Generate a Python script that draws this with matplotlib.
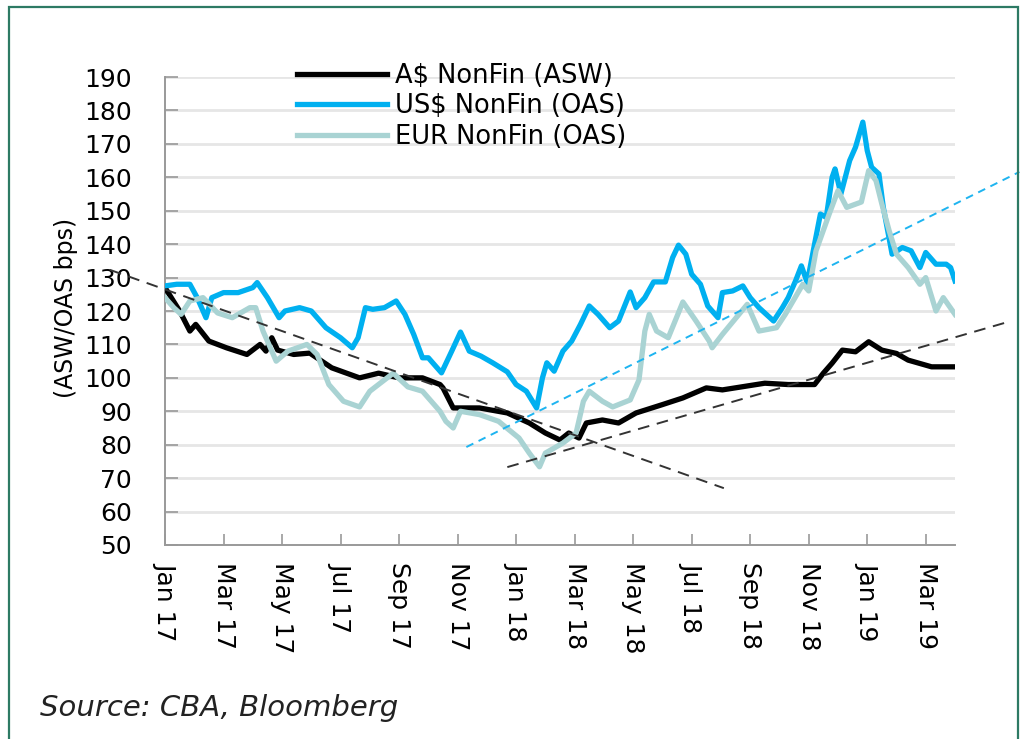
import numpy as np
import matplotlib
matplotlib.use('Agg')
import matplotlib.pyplot as plt
from matplotlib.patches import Rectangle

# months since Jan 2017 and spread levels (bps)
aud_months = [0, 0.5, 0.85, 1.05, 1.5, 2.1, 2.8, 3.25, 3.45, 3.65, 3.85, 4.4,
              4.95, 5.7, 6.65, 7.3, 8.0, 8.8, 9.4, 9.5, 9.85, 10.75, 11.7,
              12.45, 13.0, 13.5, 13.8, 14.15, 14.4, 14.95, 15.5, 16.1, 17.0,
              17.7, 18.5, 19.05, 20.5, 21.3, 22.2, 22.5, 22.8, 23.15, 23.6,
              24.05, 24.5, 25.0, 25.4, 26.2, 27.0]
aud_asw = [127, 120, 114, 116, 111, 109, 107, 110, 108, 112, 108.3, 107,
           107.4, 103, 100, 101.4, 100, 100, 98, 97, 91, 91, 89.5,
           86.5, 83.5, 81.4, 83.5, 82, 86.5, 87.4, 86.5, 89.5, 92,
           94, 97, 96.4, 98.4, 98, 98, 101.4, 104.4, 108.3, 107.8,
           110.8, 108.3, 107.3, 105.3, 103.3, 103.3]

usd_months = [0, 0.4, 0.85, 1.1, 1.4, 1.6, 2.0, 2.5, 3.0, 3.15, 3.5, 3.9,
              4.1, 4.6, 5.0, 5.5, 6.0, 6.4, 6.6, 6.85, 7.1, 7.5, 7.9, 8.2,
              8.5, 8.8, 9.0, 9.45, 9.8, 10.1, 10.4, 10.8, 11.2, 11.7, 12.0,
              12.35, 12.7, 12.9, 13.05, 13.3, 13.6, 13.9, 14.2, 14.5, 14.8,
              15.2, 15.5, 15.9, 16.1, 16.4, 16.7, 17.1, 17.35, 17.55, 17.8,
              18.0, 18.3, 18.55, 18.9, 19.05, 19.4, 19.75, 20.0, 20.3, 20.55,
              20.8, 21.1, 21.3, 21.55, 21.75, 21.95, 22.2, 22.4, 22.6, 22.8,
              22.9, 23.1, 23.4, 23.6, 23.85, 24.0, 24.15, 24.4, 24.55, 24.85,
              25.2, 25.5, 25.8, 26.0, 26.35, 26.7, 26.85, 27.0]
usd_oas = [127.5, 128, 128, 124, 118, 124, 125.5, 125.5, 127, 128.5, 124, 118,
           120, 121, 120, 115, 112, 109, 112, 121, 120.5, 121, 123, 119,
           113, 106, 106, 101.5, 108, 113.7, 108, 106.5, 104.5, 101.8, 98,
           96, 91, 100, 104.5, 102, 108, 111, 116, 121.5, 119,
           115, 117, 125.7, 121, 124, 128.7, 128.7, 136, 139.7, 137,
           131, 128, 121.5, 118, 125.5, 126, 127.5, 124, 121, 119,
           117, 121, 124, 129, 133.5, 128.5, 140, 149, 148, 160,
           162.5, 155, 165, 169, 176.5, 168, 163, 161, 151, 137,
           139, 138, 133, 137.5, 134, 134, 133, 129]

eur_months = [0, 0.3, 0.55, 0.85, 1.3, 1.8, 2.3, 2.9, 3.1, 3.35, 3.8, 4.2,
              4.85, 5.2, 5.6, 6.1, 6.65, 7.0, 7.8, 8.3, 8.8, 9.4, 9.6, 9.85,
              10.1, 10.75, 11.4, 12.1, 12.45, 12.8, 13.0, 13.6, 14.05, 14.3,
              14.5, 14.95, 15.3, 15.9, 16.2, 16.4, 16.55, 16.8, 17.2, 17.7,
              18.15, 18.6, 18.7, 19.05, 19.9, 20.3, 20.9, 21.2, 21.8, 22.0,
              22.25, 22.7, 23.0, 23.3, 23.8, 24.05, 24.3, 24.5, 24.75, 25.0,
              25.4, 25.8, 26.0, 26.35, 26.6, 27.0]
eur_oas = [124, 121, 119, 123, 124, 119.4, 118, 121, 121, 114, 105, 108,
           110, 107, 98, 93, 91.3, 96, 101.4, 97.3, 96, 90, 87, 85,
           90, 89, 87, 82, 77.5, 73.4, 77.5, 80.5, 83.5, 93,
           96, 93, 91.3, 93.4, 99.4, 114, 119, 114, 112, 122.7,
           117, 111, 109, 113, 122, 114, 115, 119, 128, 126,
           138, 149, 156, 151, 152.6, 162, 159, 152, 144, 137,
           133, 128, 130, 120, 124, 119]

# hand-drawn trend lines (start/end in months, bps)
aud_down_trend = ([-1.88, 19.1], [132.3, 67.0])
aud_up_trend = ([11.7, 28.8], [73.3, 116.7])
usd_up_trend = ([10.3, 29.2], [79.3, 161.6])

tick_months = list(range(0, 27, 2))
tick_labels = ['Jan 17', 'Mar 17', 'May 17', 'Jul 17', 'Sep 17', 'Nov 17',
               'Jan 18', 'Mar 18', 'May 18', 'Jul 18', 'Sep 18', 'Nov 18',
               'Jan 19', 'Mar 19']

plt.rcParams['font.family'] = ['DejaVu Sans']

fig = plt.figure(figsize=(10.23, 7.39), dpi=100)
ax = fig.add_axes([165 / 1023, 1 - 545 / 739, 790 / 1023, 468 / 739])

# outer green frame
fig.patches.append(Rectangle((9 / 1023, -0.1), 1009 / 1023, 1.1 - 7 / 739,
                             transform=fig.transFigure, fill=False,
                             edgecolor='#2d7a64', linewidth=1.6))

ax.plot(aud_months, aud_asw, color='black', lw=3.8,
        label='A$ NonFin (ASW)', zorder=3)
ax.plot(usd_months, usd_oas, color='#00b0f0', lw=3.8,
        label='US$ NonFin (OAS)', zorder=3)
ax.plot(eur_months, eur_oas, color='#a9d3d3', lw=3.8,
        label='EUR NonFin (OAS)', zorder=3)

ax.plot(*aud_down_trend, color='#333333', lw=1.4, ls=(0, (6, 4)),
        clip_on=False, zorder=4)
ax.plot(*aud_up_trend, color='#333333', lw=1.4, ls=(0, (6, 4)),
        clip_on=False, zorder=4)
ax.plot(*usd_up_trend, color='#1eb4f0', lw=1.4, ls=(0, (4, 3)),
        clip_on=False, zorder=4)

ax.set_xlim(0, 27)
ax.set_ylim(50, 190)
ax.set_yticks(np.arange(50, 191, 10))
ax.set_xticks(tick_months)
ax.set_xticklabels(tick_labels, rotation=-90, fontsize=18)
ax.tick_params(axis='y', direction='in', length=9, width=1.2,
               color='#999999', labelsize=18, pad=24)
ax.tick_params(axis='x', direction='in', length=8, width=1.2,
               color='#999999', pad=12)
for lab in ax.get_xticklabels():
    lab.set_va('top')
    lab.set_ha('center')

ax.grid(axis='y', color='#e6e6e6', lw=2)
ax.set_axisbelow(True)
for side in ['top', 'right']:
    ax.spines[side].set_visible(False)
for side in ['left', 'bottom']:
    ax.spines[side].set_color('#999999')
    ax.spines[side].set_linewidth(1.4)

fig.text(66 / 1023, 1 - 308 / 739, '(ASW/OAS bps)', rotation=90,
         fontsize=17, ha='center', va='center')

ax.legend(loc='upper left', bbox_to_anchor=(297 / 1023, 1 - 63 / 739),
          bbox_transform=fig.transFigure, frameon=False, fontsize=18.5,
          borderpad=0, borderaxespad=0, handlelength=3.5,
          handletextpad=0.3, labelspacing=0.17)

fig.text(40 / 1023, 1 - 708 / 739, 'Source: CBA, Bloomberg',
         fontsize=21, style='italic', ha='left', va='center',
         color='#222222')

fig.savefig('out.png', dpi=100)
plt.close(fig)
